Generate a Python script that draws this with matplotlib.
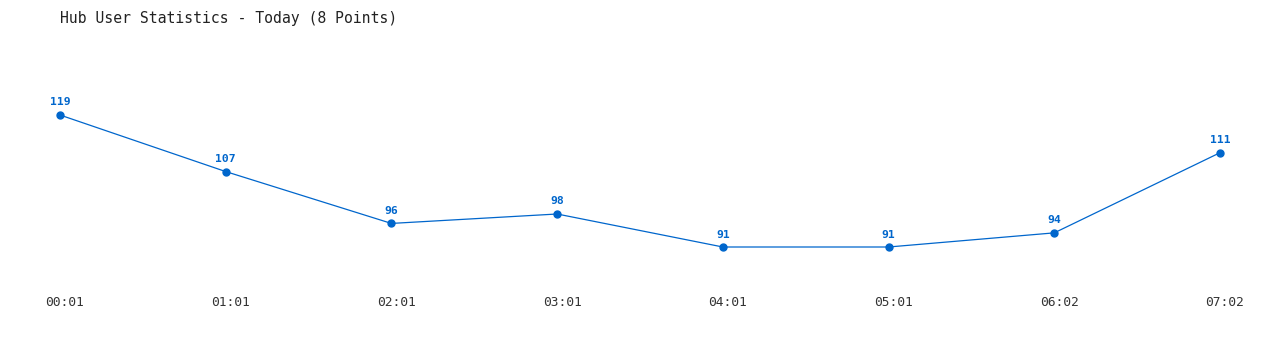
import matplotlib
matplotlib.use("Agg")
import matplotlib.pyplot as plt
import matplotlib.transforms as mtransforms

times = ["00:01", "01:01", "02:01", "03:01", "04:01", "05:01", "06:02", "07:02"]
users = [119, 107, 96, 98, 91, 91, 94, 111]

title = "Hub User Statistics - Today (8 Points)"
blue = "#0066cc"
mono = ["DejaVu Sans Mono", "Liberation Mono"]

W, H = 1280, 350
fig = plt.figure(figsize=(W / 100, H / 100), dpi=100)
fig.patch.set_facecolor("white")

left, right = 60, 1220
top, bottom = 115, 247
ax = fig.add_axes([left / W, 1 - bottom / H, (right - left) / W, (bottom - top) / H])
x = list(range(len(times)))
ax.plot(x, users, color=blue, lw=0.9, marker="o", ms=5, clip_on=False)
ax.set_xlim(0, len(times) - 1)
ax.set_ylim(min(users), max(users))

for xi, v in zip(x, users):
    ax.annotate(str(v), (xi, v), xytext=(0, 9), textcoords="offset points",
                ha="center", va="center", color=blue, fontsize=8.2,
                fontweight="bold", family=mono)

for s in ax.spines.values():
    s.set_visible(False)
ax.set_yticks([])
ax.set_xticks([])

label_shift = mtransforms.ScaledTranslation(5 / 100, 0, fig.dpi_scale_trans)
trans = mtransforms.blended_transform_factory(ax.transData, fig.transFigure) + label_shift
for xi, t in zip(x, times):
    ax.text(xi, 1 - 303 / H, t, transform=trans, ha="center", va="center",
            fontsize=9.3, color="#333333", family=mono)

fig.text(60 / W, 1 - 18 / H, title, ha="left", va="center", fontsize=10.6,
         color="#222222", family=mono)

fig.savefig("out.png", dpi=100, facecolor="white")
